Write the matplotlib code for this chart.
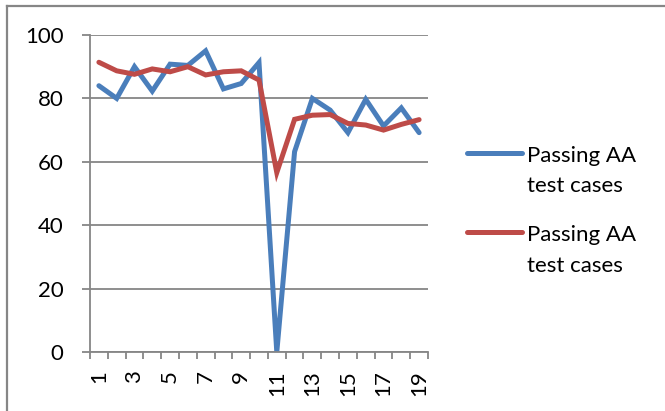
import matplotlib.pyplot as plt
import numpy as np
from matplotlib.lines import Line2D

categories = [str(i) for i in range(1, 20)]
blue_values = [84, 80, 90, 82.3, 90.8, 90.4, 95, 83, 84.7, 91.3,
               0, 63.2, 80, 76.3, 69.2, 79.7, 71.3, 77, 69.2]
red_values = [91.4, 88.7, 87.6, 89.3, 88.4, 90, 87.4, 88.4, 88.7, 85.8,
              56.6, 73.4, 74.7, 74.9, 72.1, 71.6, 70, 71.8, 73.3]
series_labels = [('Passing AA', 'test cases'), ('Passing AA', 'test cases')]
y_ticks = [0, 20, 40, 60, 80, 100]

plt.rcParams['font.family'] = ['Lato', 'DejaVu Sans']

W, H = 665, 411
fig = plt.figure(figsize=(W / 100, H / 100), dpi=100)
ax = fig.add_axes([90 / W, 1 - 352 / H, (428 - 90) / W, (352 - 35) / H])

grid_color = '#868686'
blue = '#4A7EBB'
red = '#BE4B48'

# outer chart border (only top and left visible in the crop)
fig.add_artist(Line2D([7 / W, 7 / W], [0, 1 - 6 / H], transform=fig.transFigure,
                      color=grid_color, linewidth=1.6))
fig.add_artist(Line2D([7 / W, 1], [1 - 6 / H, 1 - 6 / H], transform=fig.transFigure,
                      color=grid_color, linewidth=1.6))

x = np.arange(1, len(categories) + 1)
ax.yaxis.grid(color=grid_color, linestyle='-', linewidth=1.3)
ax.set_axisbelow(True)

ax.plot(x, blue_values, color=blue, linewidth=3.6, solid_joinstyle='miter',
        solid_capstyle='round')
ax.plot(x, red_values, color=red, linewidth=3.6, solid_joinstyle='miter',
        solid_capstyle='round')

ax.set_xlim(0.5, len(categories) + 0.5)
ax.set_ylim(0, 100)
ax.set_yticks(y_ticks)
ax.tick_params(axis='y', labelsize=16, length=6, width=1.3, color=grid_color, pad=13)

ax.set_xticks(x[::2])
ax.set_xticklabels(categories[::2], rotation=90, fontsize=16)
ax.set_xticks(np.arange(0.5, len(categories) + 1, 1), minor=True)
ax.tick_params(axis='x', which='major', length=0, pad=13)
ax.tick_params(axis='x', which='minor', length=5, width=1.3, color=grid_color)

for side in ['top', 'right']:
    ax.spines[side].set_visible(False)
for side in ['left', 'bottom']:
    ax.spines[side].set_color(grid_color)
    ax.spines[side].set_linewidth(1.3)

# legend drawn by hand, key aligned with first text line as in Excel
for (line1, line2), color, ky in zip(series_labels, [blue, red], [152.5, 232]):
    fig.add_artist(Line2D([467 / W, 522 / W], [1 - ky / H, 1 - ky / H],
                          transform=fig.transFigure, color=color, linewidth=3.6,
                          solid_capstyle='round'))
    fig.text(527 / W, 1 - (ky + 9) / H, line1, fontsize=16, va='baseline')
    fig.text(527 / W, 1 - (ky + 40) / H, line2, fontsize=16, va='baseline')

fig.savefig('out.png', dpi=100)
